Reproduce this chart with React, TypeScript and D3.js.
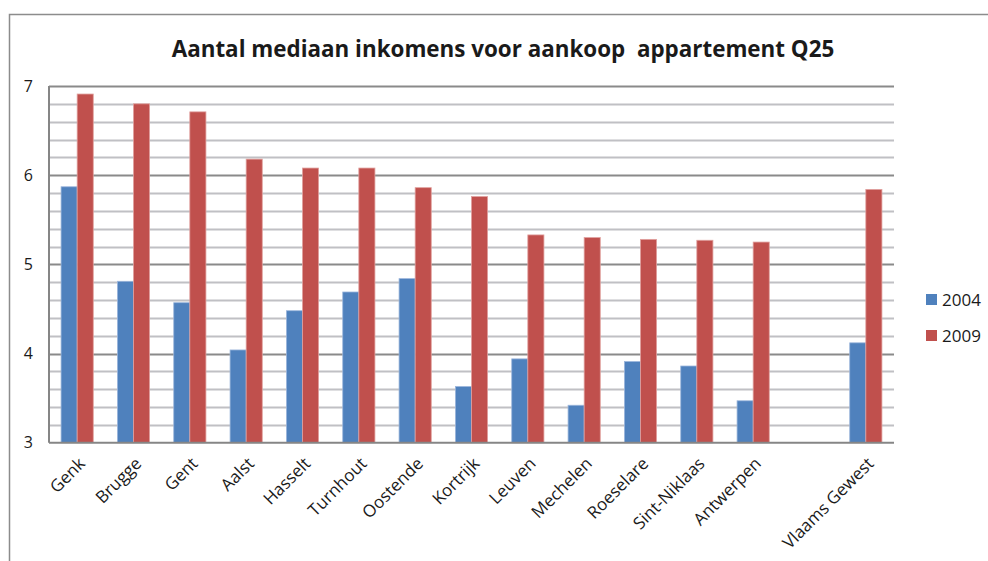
import React, { useEffect, useRef } from 'react'
import * as d3 from 'd3'

// categories along the x axis (one empty slot before the regional total)
const categories = ['Genk', 'Brugge', 'Gent', 'Aalst', 'Hasselt', 'Turnhout', 'Oostende', 'Kortrijk',
  'Leuven', 'Mechelen', 'Roeselare', 'Sint-Niklaas', 'Antwerpen', '', 'Vlaams Gewest']
const seriesNames = ['2004', '2009']
const values2004 = [5.87, 4.81, 4.57, 4.04, 4.48, 4.69, 4.84, 3.63, 3.94, 3.42, 3.91, 3.86, 3.47, null, 4.12]
const values2009 = [6.91, 6.80, 6.71, 6.18, 6.08, 6.08, 5.86, 5.76, 5.33, 5.30, 5.28, 5.27, 5.25, null, 5.84]
const yTicks = [3, 4, 5, 6, 7]
const colors = ['#4F81BD', '#C0504D']
const title = 'Aantal mediaan inkomens voor aankoop  appartement Q25'

export default function App() {
  const container = useRef<SVGSVGElement>(null)

  useEffect(() => {
    if (!container.current) return
    const svg = d3.select(container.current)
    svg.selectAll('*').remove()

    const margin = { top: 86, right: 94, bottom: 118.3, left: 49 }
    const width = 988, height = 561
    const font = "'Open Sans', sans-serif"

    // chart frame (only left and top edges visible)
    svg.append('path')
      .attr('d', `M9.5,${height}V14.5H${width}`)
      .attr('fill', 'none')
      .attr('stroke', '#8c8c8c')
      .attr('stroke-width', 1.5)

    svg.append('text')
      .attr('x', 503)
      .attr('y', 57)
      .attr('text-anchor', 'middle')
      .attr('font-family', font)
      .attr('font-weight', 'bold')
      .attr('font-size', 22.4)
      .attr('fill', '#1a1a1a')
      .style('white-space', 'pre')
      .text(title)

    const x = d3.scaleBand<string>()
      .domain(categories.map((c, i) => c || 'blank' + i))
      .range([margin.left, width - margin.right])
    const xSub = d3.scaleBand<string>()
      .domain(seriesNames)
      .range([0, x.bandwidth()])
      .paddingOuter(0.75)
    const y = d3.scaleLinear().domain([3, 7]).range([height - margin.bottom, margin.top])

    // gridlines: minor every 0.2, major on integers
    const grid = svg.append('g')
    y.ticks(20).forEach(t => {
      const major = Math.abs(t - Math.round(t)) < 1e-6
      if (t === 3) return
      grid.append('line')
        .attr('x1', margin.left).attr('x2', width - margin.right)
        .attr('y1', Math.round(y(t)) + 0.5).attr('y2', Math.round(y(t)) + 0.5)
        .attr('stroke', major ? '#8a8a8a' : '#c0c0c4')
        .attr('stroke-width', 2)
    })

    const keys = x.domain()
    const series = [values2004, values2009]
    series.forEach((vals, si) => {
      svg.append('g')
        .selectAll('rect')
        .data(vals.map((v, i) => ({ key: keys[i], v })).filter(d => d.v != null))
        .join('rect')
        .attr('x', d => (x(d.key) as number) + (xSub(seriesNames[si]) as number))
        .attr('y', d => y(d.v as number))
        .attr('width', xSub.bandwidth())
        .attr('height', d => y(3) - y(d.v as number))
        .attr('fill', colors[si])
        .attr('stroke', si === 0 ? '#9cb6dc' : '#e0a09e')
        .attr('stroke-width', 0.8)
    })

    // axes lines
    svg.append('line')
      .attr('x1', margin.left).attr('x2', margin.left)
      .attr('y1', margin.top).attr('y2', y(3))
      .attr('stroke', '#868686').attr('stroke-width', 2)
    svg.append('line')
      .attr('x1', margin.left).attr('x2', width - margin.right)
      .attr('y1', y(3)).attr('y2', y(3))
      .attr('stroke', '#868686').attr('stroke-width', 2)

    svg.append('g')
      .selectAll('text')
      .data(yTicks)
      .join('text')
      .attr('x', 33)
      .attr('y', d => y(d))
      .attr('dy', '0.35em')
      .attr('text-anchor', 'end')
      .attr('font-family', font)
      .attr('font-size', 16)
      .attr('fill', '#1a1a1a')
      .text(d => d)

    svg.append('g')
      .selectAll('text')
      .data(categories.map((c, i) => ({ c, key: keys[i] })).filter(d => d.c))
      .join('text')
      .attr('transform', d => `translate(${(x(d.key) as number) + x.bandwidth() / 2 + 9},${y(3) + 22}) rotate(-45)`)
      .attr('text-anchor', 'end')
      .attr('font-family', font)
      .attr('font-size', 17)
      .attr('fill', '#1a1a1a')
      .text(d => d.c)

    // legend
    const legend = svg.append('g')
    seriesNames.forEach((s, i) => {
      legend.append('rect')
        .attr('x', 926).attr('y', 294 + i * 36)
        .attr('width', 11).attr('height', 11)
        .attr('fill', colors[i])
      legend.append('text')
        .attr('x', 942).attr('y', 300 + i * 36)
        .attr('dy', '0.35em')
        .attr('font-family', font)
        .attr('font-size', 17)
        .attr('fill', '#1a1a1a')
        .text(s)
    })
  }, [])

  return (
    <svg ref={container} width={988} height={561}
      style={{ position: 'absolute', left: 0, top: 0, background: '#fff' }} />
  )
}
